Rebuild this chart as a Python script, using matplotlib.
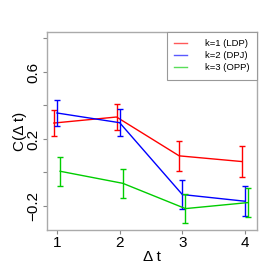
import matplotlib
matplotlib.use("Agg")
import matplotlib.pyplot as plt
import numpy as np

plt.rcParams["font.family"] = ["Liberation Sans", "DejaVu Sans"]

dt = [1, 2, 3, 4]
labels = ["k=1 (LDP)", "k=2 (DPJ)", "k=3 (OPP)"]
colors = ["#ff0000", "#0000ff", "#00cd00"]
offsets = [-0.05, 0.0, 0.05]
vals = {
    "k=1 (LDP)": [0.295, 0.331, 0.099, 0.065],
    "k=2 (DPJ)": [0.355, 0.297, -0.132, -0.172],
    "k=3 (OPP)": [0.007, -0.065, -0.216, -0.180],
}
errs = {
    "k=1 (LDP)": [0.080, 0.080, 0.090, 0.090],
    "k=2 (DPJ)": [0.078, 0.080, 0.088, 0.088],
    "k=3 (OPP)": [0.088, 0.088, 0.088, 0.085],
}
yticks = [-0.2, 0.0, 0.2, 0.4, 0.6, 0.8]
yticklabels = ["\u22120.2", "", "0.2", "", "0.6", ""]

fig = plt.figure(figsize=(2.73, 2.73), dpi=100)
ax = fig.add_axes([0.172, 0.158, 0.769, 0.725])

handles = []
for lab, col, off in zip(labels, colors, offsets):
    x = np.array(dt) + off
    h, = ax.plot(x, vals[lab], color=col, lw=1.0)
    ax.errorbar(x, vals[lab], yerr=errs[lab], fmt="none", ecolor=col,
                elinewidth=1.0, capsize=2.5, capthick=1.0)
    handles.append(h)

ax.set_xlim(0.84, 4.19)
ax.set_ylim(-0.343, 0.839)
ax.set_xticks(dt)
ax.set_xticklabels([str(d) for d in dt], fontsize=11)
ax.set_yticks(yticks)
ax.set_yticklabels(yticklabels, fontsize=11, rotation=90, va="center")
ax.tick_params(length=3, width=0.8, color="#888888", pad=1.5)
for s in ax.spines.values():
    s.set_color("#aaaaaa")
    s.set_linewidth(1.0)
ax.set_xlabel("Δ t", fontsize=11, labelpad=0)
ax.set_ylabel("C(Δ t)", fontsize=11, labelpad=0)

leg = ax.legend(handles, labels, loc="upper right", bbox_to_anchor=(1.0, 1.0),
                borderaxespad=0, fontsize=6.8, fancybox=False,
                framealpha=1, edgecolor="#999999", handlelength=1.3,
                handletextpad=1.9, labelspacing=0.3, borderpad=0.8)
leg.get_frame().set_linewidth(0.8)
for lh in leg.get_lines():
    lh.set_linewidth(1.0)
    lh.set_alpha(0.65)

fig.savefig("out.png", dpi=100)
